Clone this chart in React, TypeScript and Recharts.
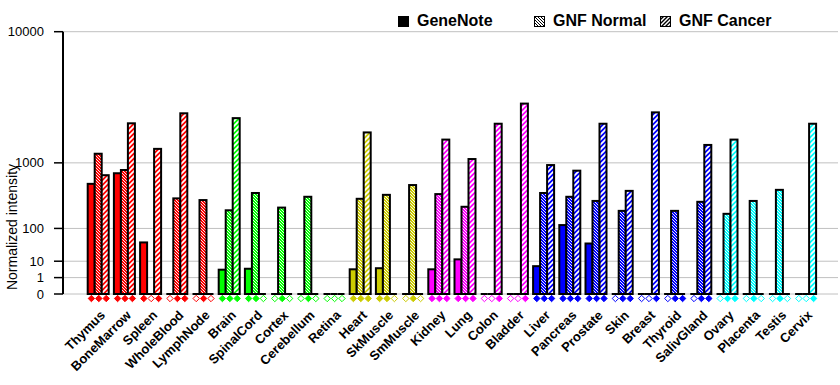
import React from 'react';
import { BarChart, Bar, XAxis, YAxis, CartesianGrid, Legend } from 'recharts';

const tissues = [
  'Thymus', 'BoneMarrow', 'Spleen', 'WholeBlood', 'LymphNode',
  'Brain', 'SpinalCord', 'Cortex', 'Cerebellum', 'Retina',
  'Heart', 'SkMuscle', 'SmMuscle',
  'Kidney', 'Lung', 'Colon', 'Bladder',
  'Liver', 'Pancreas', 'Prostate', 'Skin', 'Breast', 'Thyroid', 'SalivGland',
  'Ovary', 'Placenta', 'Testis', 'Cervix',
];

// colour group of each tissue
const tissueGroups = [
  'red', 'red', 'red', 'red', 'red',
  'green', 'green', 'green', 'green', 'green',
  'yellow', 'yellow', 'yellow',
  'magenta', 'magenta', 'magenta', 'magenta',
  'blue', 'blue', 'blue', 'blue', 'blue', 'blue', 'blue',
  'cyan', 'cyan', 'cyan', 'cyan',
];

const geneNote = [560, 760, 45, 0, 0, 3.7, 4.2, 0, 0, 0, 3.9, 4.5, 0, 3.9, 12, 0, 0, 5.8, 118, 42, 0, 0, 0, 0, 0, 0, 0, 0];
const gnfNormal = [1250, 830, 0, 350, 330, 225, 420, 250, 370, 0, 345, 395, 540, 405, 258, 0, 0, 420, 370, 320, 220, 0, 220, 310, 195, 320, 465, 0];
const gnfCancer = [720, 2400, 1400, 2900, 0, 2650, 0, 0, 0, 0, 2000, 0, 0, 1720, 1100, 2380, 3450, 945, 815, 2380, 450, 2950, 0, 1530, 1720, 0, 0, 2380];

// present (filled diamond) / absent (hollow diamond) calls
const geneNoteCalls = [1, 1, 1, 0, 0, 1, 1, 0, 0, 0, 1, 1, 0, 1, 1, 0, 0, 1, 1, 1, 0, 0, 0, 0, 0, 0, 0, 0];
const gnfNormalCalls = [1, 1, 0, 1, 1, 1, 1, 1, 1, 0, 1, 1, 1, 1, 1, 0, 0, 1, 1, 1, 1, 0, 1, 1, 1, 1, 1, 0];
const gnfCancerCalls = [1, 1, 1, 1, 0, 1, 0, 0, 0, 0, 1, 0, 0, 1, 1, 1, 1, 1, 1, 1, 1, 1, 1, 1, 1, 0, 0, 1];

const yTicks = [0, 1, 10, 100, 1000, 10000];

const colors: { [k: string]: string } = {
  red: '#ff0000',
  green: '#00ff00',
  yellow: '#cccc00',
  magenta: '#ff00ff',
  blue: '#0000ff',
  cyan: '#00ffff',
};

const FONT = '"Liberation Sans", Arial, sans-serif';

// each decade takes twice the height of the one below it
const EXP = Math.log10(2);
const tf = (v: number) => (v > 0 ? Math.pow(v, EXP) : 0);

const data = tissues.map((name, i) => ({
  name,
  group: tissueGroups[i],
  gn: tf(geneNote[i]),
  nrm: tf(gnfNormal[i]),
  cnc: tf(gnfCancer[i]),
}));

const makeShape = (series: string) => (props: any) => {
  const { x, y, width, height, payload } = props;
  if (!height || height <= 0) {
    return <line x1={x} x2={x + width} y1={y} y2={y} stroke="#000" strokeWidth={2} />;
  }
  const fill = series === 'gn' ? colors[payload.group] : `url(#${series}-${payload.group})`;
  return <rect x={x} y={y} width={width} height={height} fill={fill} stroke="#000" strokeWidth={2} />;
};

const Diamond = ({ cx, cy, color, filled }: any) => (
  <polygon
    points={`${cx},${cy - 3.2} ${cx + 3.2},${cy} ${cx},${cy + 3.2} ${cx - 3.2},${cy}`}
    fill={filled ? color : '#fff'}
    stroke={color}
    strokeWidth={1}
  />
);

const TissueTick = (props: any) => {
  const { x, y, payload } = props;
  const i = tissues.indexOf(payload.value);
  const color = colors[tissueGroups[i]];
  const calls = [geneNoteCalls[i], gnfNormalCalls[i], gnfCancerCalls[i]];
  const ax = x + 7;
  const ay = y + 22;
  return (
    <g>
      {calls.map((c, k) => (
        <Diamond key={k} cx={x + (k - 1) * 7.4} cy={y + 4.5} color={color} filled={c === 1} />
      ))}
      <text
        x={ax}
        y={ay}
        textAnchor="end"
        transform={`rotate(-45, ${ax}, ${ay})`}
        fontFamily={FONT}
        fontWeight="bold"
        fontSize={13}
        fill="#000"
      >
        {payload.value}
      </text>
    </g>
  );
};

const YLabel = () => (
  <text
    x={17}
    y={227}
    transform="rotate(-90, 17, 227)"
    textAnchor="middle"
    fontFamily={FONT}
    fontSize={14}
    fill="#000"
  >
    Normalized intensity
  </text>
);

const legendItems = [
  { label: 'GeneNote', left: 398, kind: 'gn' },
  { label: 'GNF Normal', left: 534, kind: 'nrm' },
  { label: 'GNF Cancer', left: 660, kind: 'cnc' },
];

const LegendIcon = ({ kind }: { kind: string }) => (
  <svg width={11} height={11} style={{ position: 'absolute', left: 0, top: 0 }}>
    <defs>
      <pattern id="lg-nrm" patternUnits="userSpaceOnUse" width="3" height="3">
        <rect width="3" height="3" fill="#fff" />
        <path d="M0,0 L3,3 M-1,2 L1,4 M2,-1 L4,1" stroke="#000" strokeWidth="1" />
      </pattern>
      <pattern id="lg-cnc" patternUnits="userSpaceOnUse" width="4" height="4">
        <rect width="4" height="4" fill="#fff" />
        <path d="M0,4 L4,0 M-1,1 L1,-1 M3,5 L5,3" stroke="#000" strokeWidth="1.4" />
      </pattern>
    </defs>
    <rect
      x={0.5}
      y={0.5}
      width={10}
      height={10}
      fill={kind === 'gn' ? '#000' : `url(#lg-${kind})`}
      stroke="#000"
      strokeWidth={1}
    />
  </svg>
);

const LegendContent = () => (
  <div style={{ position: 'relative', width: 840, height: 30, fontFamily: FONT, fontWeight: 'bold', fontSize: 16, color: '#000' }}>
    {legendItems.map(item => (
      <div key={item.label} style={{ position: 'absolute', left: item.left, top: 15.5, width: 11, height: 11 }}>
        <LegendIcon kind={item.kind} />
        <span style={{ position: 'absolute', left: 19, top: -2.5, lineHeight: 1, whiteSpace: 'nowrap' }}>
          {item.label}
        </span>
      </div>
    ))}
  </div>
);

const App: React.FC = () => {
  return (
    <div style={{ position: 'absolute', left: 0, top: 0, width: 840, height: 385, background: '#fff' }}>
      <BarChart
        width={840}
        height={385}
        data={data}
        margin={{ top: 31.7, right: 2, bottom: 0, left: 0 }}
        barGap={0}
        barCategoryGap={2}
      >
        <defs>
          {Object.keys(colors).map(k => (
            <React.Fragment key={k}>
              <pattern id={`nrm-${k}`} patternUnits="userSpaceOnUse" width="3" height="3">
                <rect width="3" height="3" fill={colors[k]} />
                <path d="M0,0 L3,3 M-1,2 L1,4 M2,-1 L4,1" stroke="#fff" strokeWidth="0.9" />
              </pattern>
              <pattern id={`cnc-${k}`} patternUnits="userSpaceOnUse" width="5" height="5">
                <rect width="5" height="5" fill={colors[k]} />
                <path d="M0,5 L5,0 M-1,1 L1,-1 M4,6 L6,4" stroke="#fff" strokeWidth="1.7" />
              </pattern>
            </React.Fragment>
          ))}
        </defs>
        <CartesianGrid vertical={false} stroke="#c0c0c0" />
        <XAxis
          dataKey="name"
          interval={0}
          height={91}
          tick={<TissueTick />}
          tickLine={false}
          axisLine={false}
          tickSize={0}
          tickMargin={0}
          padding={{ left: 22.7, right: 18.7 }}
        />
        <YAxis
          width={63}
          domain={[0, tf(10000)]}
          ticks={yTicks.map(tf)}
          tickFormatter={(v: number, i: number) => String(yTicks[i])}
          interval={0}
          tickSize={9}
          tickMargin={10}
          axisLine={{ stroke: '#000', strokeWidth: 2 }}
          tickLine={{ stroke: '#000', strokeWidth: 1.5 }}
          tick={{ fontFamily: FONT, fontSize: 13, fill: '#000' }}
          label={<YLabel />}
        />
        <Legend
          layout="horizontal"
          verticalAlign="middle"
          align="center"
          wrapperStyle={{ top: 0, left: 0, width: 840 }}
          content={<LegendContent />}
        />
        <Bar dataKey="gn" isAnimationActive={false} shape={makeShape('gn')} legendType="none" />
        <Bar dataKey="nrm" isAnimationActive={false} shape={makeShape('nrm')} legendType="none" />
        <Bar dataKey="cnc" isAnimationActive={false} shape={makeShape('cnc')} legendType="none" />
      </BarChart>
    </div>
  );
};

export default App;
